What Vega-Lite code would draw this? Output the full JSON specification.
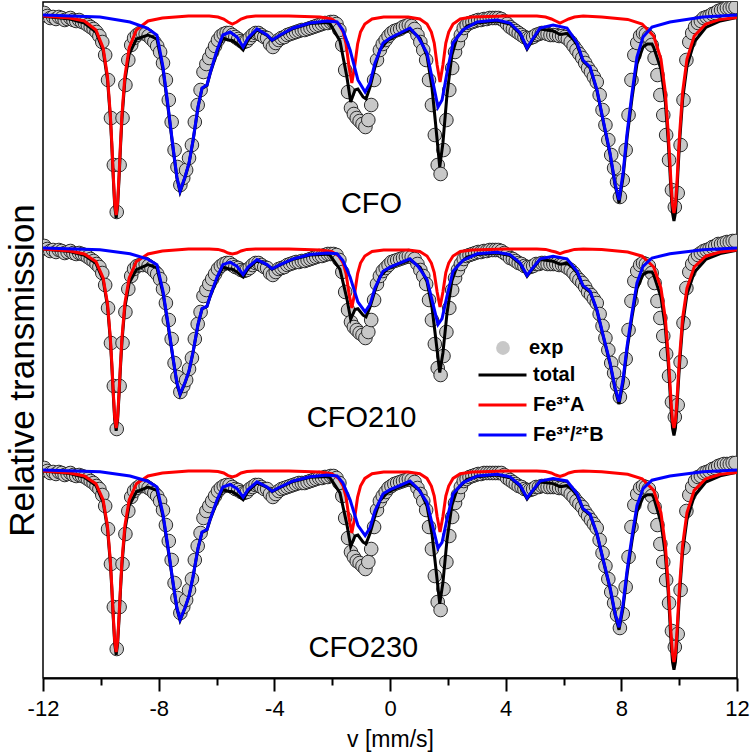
{
"$schema":"https://vega.github.io/schema/vega-lite/v6.json",
"width":694,"height":676,
"autosize":"none",
"padding":{"left":43,"top":2,"right":13,"bottom":77},
"config":{"font":"Liberation Sans","view":{"stroke":"black","strokeWidth":1.5},"axis":{"grid":false}},
"datasets":{
"exp":[
{"s":"CFO","v":-11.95,"y":665},{"s":"CFO","v":-11.85,"y":662},{"s":"CFO","v":-11.75,"y":660},{"s":"CFO","v":-11.65,"y":661},{"s":"CFO","v":-11.55,"y":659},{"s":"CFO","v":-11.45,"y":661},{"s":"CFO","v":-11.35,"y":660},{"s":"CFO","v":-11.25,"y":658},{"s":"CFO","v":-11.15,"y":659},{"s":"CFO","v":-11.05,"y":660},
{"s":"CFO","v":-10.95,"y":658},{"s":"CFO","v":-10.85,"y":657},{"s":"CFO","v":-10.75,"y":658},{"s":"CFO","v":-10.65,"y":656},{"s":"CFO","v":-10.55,"y":655},{"s":"CFO","v":-10.45,"y":653},{"s":"CFO","v":-10.35,"y":651},{"s":"CFO","v":-10.25,"y":649},{"s":"CFO","v":-10.15,"y":646},{"s":"CFO","v":-10.05,"y":642},
{"s":"CFO","v":-9.95,"y":636},{"s":"CFO","v":-9.85,"y":623},{"s":"CFO","v":-9.75,"y":598},{"s":"CFO","v":-9.65,"y":560},{"s":"CFO","v":-9.55,"y":513},{"s":"CFO","v":-9.45,"y":466},{"s":"CFO","v":-9.35,"y":513},{"s":"CFO","v":-9.25,"y":560},{"s":"CFO","v":-9.15,"y":593},{"s":"CFO","v":-9.05,"y":618},
{"s":"CFO","v":-8.95,"y":633},{"s":"CFO","v":-8.85,"y":640},{"s":"CFO","v":-8.75,"y":643},{"s":"CFO","v":-8.65,"y":645},{"s":"CFO","v":-8.55,"y":645},{"s":"CFO","v":-8.45,"y":644},{"s":"CFO","v":-8.35,"y":642},{"s":"CFO","v":-8.25,"y":639},{"s":"CFO","v":-8.15,"y":636},{"s":"CFO","v":-8.05,"y":632},
{"s":"CFO","v":-7.95,"y":626},{"s":"CFO","v":-7.85,"y":615},{"s":"CFO","v":-7.75,"y":598},{"s":"CFO","v":-7.65,"y":578},{"s":"CFO","v":-7.55,"y":556},{"s":"CFO","v":-7.45,"y":528},{"s":"CFO","v":-7.35,"y":511},{"s":"CFO","v":-7.25,"y":493},{"s":"CFO","v":-7.15,"y":500},{"s":"CFO","v":-7.05,"y":508},
{"s":"CFO","v":-6.95,"y":520},{"s":"CFO","v":-6.85,"y":533},{"s":"CFO","v":-6.75,"y":556},{"s":"CFO","v":-6.65,"y":573},{"s":"CFO","v":-6.55,"y":588},{"s":"CFO","v":-6.45,"y":606},{"s":"CFO","v":-6.35,"y":614},{"s":"CFO","v":-6.25,"y":620},{"s":"CFO","v":-6.15,"y":626},{"s":"CFO","v":-6.05,"y":632},
{"s":"CFO","v":-5.95,"y":638},{"s":"CFO","v":-5.85,"y":642},{"s":"CFO","v":-5.75,"y":644},{"s":"CFO","v":-5.65,"y":645},{"s":"CFO","v":-5.55,"y":645},{"s":"CFO","v":-5.45,"y":643},{"s":"CFO","v":-5.35,"y":641},{"s":"CFO","v":-5.25,"y":639},{"s":"CFO","v":-5.15,"y":637},{"s":"CFO","v":-5.05,"y":636},
{"s":"CFO","v":-4.95,"y":637},{"s":"CFO","v":-4.85,"y":640},{"s":"CFO","v":-4.75,"y":643},{"s":"CFO","v":-4.65,"y":645},{"s":"CFO","v":-4.55,"y":645},{"s":"CFO","v":-4.45,"y":643},{"s":"CFO","v":-4.35,"y":641},{"s":"CFO","v":-4.25,"y":640},{"s":"CFO","v":-4.15,"y":634},{"s":"CFO","v":-4.05,"y":631},
{"s":"CFO","v":-3.95,"y":635},{"s":"CFO","v":-3.85,"y":638},{"s":"CFO","v":-3.75,"y":640},{"s":"CFO","v":-3.65,"y":641},{"s":"CFO","v":-3.55,"y":643},{"s":"CFO","v":-3.45,"y":644},{"s":"CFO","v":-3.35,"y":645},{"s":"CFO","v":-3.25,"y":646},{"s":"CFO","v":-3.15,"y":647},{"s":"CFO","v":-3.05,"y":648},
{"s":"CFO","v":-2.95,"y":648},{"s":"CFO","v":-2.85,"y":649},{"s":"CFO","v":-2.75,"y":650},{"s":"CFO","v":-2.65,"y":651},{"s":"CFO","v":-2.55,"y":652},{"s":"CFO","v":-2.45,"y":653},{"s":"CFO","v":-2.35,"y":654},{"s":"CFO","v":-2.25,"y":655},{"s":"CFO","v":-2.15,"y":655},{"s":"CFO","v":-2.05,"y":656},
{"s":"CFO","v":-1.95,"y":656},{"s":"CFO","v":-1.85,"y":654},{"s":"CFO","v":-1.75,"y":648},{"s":"CFO","v":-1.65,"y":633},{"s":"CFO","v":-1.55,"y":608},{"s":"CFO","v":-1.45,"y":586},{"s":"CFO","v":-1.35,"y":570},{"s":"CFO","v":-1.25,"y":564},{"s":"CFO","v":-1.15,"y":560},{"s":"CFO","v":-1.05,"y":557},
{"s":"CFO","v":-0.95,"y":554},{"s":"CFO","v":-0.85,"y":551},{"s":"CFO","v":-0.75,"y":558},{"s":"CFO","v":-0.65,"y":573},{"s":"CFO","v":-0.55,"y":598},{"s":"CFO","v":-0.45,"y":618},{"s":"CFO","v":-0.35,"y":628},{"s":"CFO","v":-0.25,"y":634},{"s":"CFO","v":-0.15,"y":638},{"s":"CFO","v":-0.05,"y":642},
{"s":"CFO","v":0.05,"y":645},{"s":"CFO","v":0.15,"y":647},{"s":"CFO","v":0.25,"y":648},{"s":"CFO","v":0.35,"y":649},{"s":"CFO","v":0.45,"y":651},{"s":"CFO","v":0.55,"y":652},{"s":"CFO","v":0.65,"y":653},{"s":"CFO","v":0.75,"y":652},{"s":"CFO","v":0.85,"y":649},{"s":"CFO","v":0.95,"y":643},
{"s":"CFO","v":1.05,"y":636},{"s":"CFO","v":1.15,"y":628},{"s":"CFO","v":1.25,"y":618},{"s":"CFO","v":1.35,"y":598},{"s":"CFO","v":1.45,"y":573},{"s":"CFO","v":1.55,"y":543},{"s":"CFO","v":1.65,"y":513},{"s":"CFO","v":1.75,"y":504},{"s":"CFO","v":1.85,"y":528},{"s":"CFO","v":1.95,"y":558},
{"s":"CFO","v":2.05,"y":588},{"s":"CFO","v":2.15,"y":610},{"s":"CFO","v":2.25,"y":626},{"s":"CFO","v":2.35,"y":635},{"s":"CFO","v":2.45,"y":643},{"s":"CFO","v":2.55,"y":650},{"s":"CFO","v":2.65,"y":653},{"s":"CFO","v":2.75,"y":655},{"s":"CFO","v":2.85,"y":656},{"s":"CFO","v":2.95,"y":657},
{"s":"CFO","v":3.05,"y":658},{"s":"CFO","v":3.15,"y":658},{"s":"CFO","v":3.25,"y":659},{"s":"CFO","v":3.35,"y":659},{"s":"CFO","v":3.45,"y":660},{"s":"CFO","v":3.55,"y":660},{"s":"CFO","v":3.65,"y":660},{"s":"CFO","v":3.75,"y":660},{"s":"CFO","v":3.85,"y":659},{"s":"CFO","v":3.95,"y":657},
{"s":"CFO","v":4.05,"y":654},{"s":"CFO","v":4.15,"y":651},{"s":"CFO","v":4.25,"y":649},{"s":"CFO","v":4.35,"y":647},{"s":"CFO","v":4.45,"y":645},{"s":"CFO","v":4.55,"y":643},{"s":"CFO","v":4.65,"y":641},{"s":"CFO","v":4.75,"y":640},{"s":"CFO","v":4.85,"y":640},{"s":"CFO","v":4.95,"y":641},
{"s":"CFO","v":5.05,"y":643},{"s":"CFO","v":5.15,"y":644},{"s":"CFO","v":5.25,"y":645},{"s":"CFO","v":5.35,"y":645},{"s":"CFO","v":5.45,"y":644},{"s":"CFO","v":5.55,"y":643},{"s":"CFO","v":5.65,"y":643},{"s":"CFO","v":5.75,"y":643},{"s":"CFO","v":5.85,"y":642},{"s":"CFO","v":5.95,"y":642},
{"s":"CFO","v":6.05,"y":641},{"s":"CFO","v":6.15,"y":639},{"s":"CFO","v":6.25,"y":636},{"s":"CFO","v":6.35,"y":632},{"s":"CFO","v":6.45,"y":628},{"s":"CFO","v":6.55,"y":624},{"s":"CFO","v":6.65,"y":620},{"s":"CFO","v":6.75,"y":615},{"s":"CFO","v":6.85,"y":610},{"s":"CFO","v":6.95,"y":606},
{"s":"CFO","v":7.05,"y":601},{"s":"CFO","v":7.15,"y":596},{"s":"CFO","v":7.25,"y":583},{"s":"CFO","v":7.35,"y":568},{"s":"CFO","v":7.45,"y":553},{"s":"CFO","v":7.55,"y":538},{"s":"CFO","v":7.65,"y":523},{"s":"CFO","v":7.75,"y":510},{"s":"CFO","v":7.85,"y":496},{"s":"CFO","v":7.95,"y":481},
{"s":"CFO","v":8.05,"y":498},{"s":"CFO","v":8.15,"y":528},{"s":"CFO","v":8.25,"y":563},{"s":"CFO","v":8.35,"y":598},{"s":"CFO","v":8.45,"y":623},{"s":"CFO","v":8.55,"y":635},{"s":"CFO","v":8.65,"y":642},{"s":"CFO","v":8.75,"y":645},{"s":"CFO","v":8.85,"y":644},{"s":"CFO","v":8.95,"y":641},
{"s":"CFO","v":9.05,"y":633},{"s":"CFO","v":9.15,"y":620},{"s":"CFO","v":9.25,"y":603},{"s":"CFO","v":9.35,"y":583},{"s":"CFO","v":9.45,"y":563},{"s":"CFO","v":9.55,"y":543},{"s":"CFO","v":9.65,"y":518},{"s":"CFO","v":9.75,"y":488},{"s":"CFO","v":9.85,"y":471},{"s":"CFO","v":9.95,"y":485},
{"s":"CFO","v":10.05,"y":533},{"s":"CFO","v":10.15,"y":578},{"s":"CFO","v":10.25,"y":618},{"s":"CFO","v":10.35,"y":636},{"s":"CFO","v":10.45,"y":645},{"s":"CFO","v":10.55,"y":651},{"s":"CFO","v":10.65,"y":655},{"s":"CFO","v":10.75,"y":657},{"s":"CFO","v":10.85,"y":660},{"s":"CFO","v":10.95,"y":661},
{"s":"CFO","v":11.05,"y":662},{"s":"CFO","v":11.15,"y":664},{"s":"CFO","v":11.25,"y":665},{"s":"CFO","v":11.35,"y":667},{"s":"CFO","v":11.45,"y":668},{"s":"CFO","v":11.55,"y":669},{"s":"CFO","v":11.65,"y":670},{"s":"CFO","v":11.75,"y":670},{"s":"CFO","v":11.85,"y":671},{"s":"CFO","v":11.95,"y":671},
{"s":"CFO210","v":-11.95,"y":432},{"s":"CFO210","v":-11.85,"y":429},{"s":"CFO210","v":-11.75,"y":427},{"s":"CFO210","v":-11.65,"y":428},{"s":"CFO210","v":-11.55,"y":426},{"s":"CFO210","v":-11.45,"y":428},{"s":"CFO210","v":-11.35,"y":427},{"s":"CFO210","v":-11.25,"y":425},{"s":"CFO210","v":-11.15,"y":426},{"s":"CFO210","v":-11.05,"y":427},
{"s":"CFO210","v":-10.95,"y":425},{"s":"CFO210","v":-10.85,"y":424},{"s":"CFO210","v":-10.75,"y":425},{"s":"CFO210","v":-10.65,"y":424},{"s":"CFO210","v":-10.55,"y":423},{"s":"CFO210","v":-10.45,"y":421},{"s":"CFO210","v":-10.35,"y":419},{"s":"CFO210","v":-10.25,"y":417},{"s":"CFO210","v":-10.15,"y":414},{"s":"CFO210","v":-10.05,"y":411},
{"s":"CFO210","v":-9.95,"y":405},{"s":"CFO210","v":-9.85,"y":393},{"s":"CFO210","v":-9.75,"y":370},{"s":"CFO210","v":-9.65,"y":335},{"s":"CFO210","v":-9.55,"y":292},{"s":"CFO210","v":-9.45,"y":249},{"s":"CFO210","v":-9.35,"y":292},{"s":"CFO210","v":-9.25,"y":335},{"s":"CFO210","v":-9.15,"y":366},{"s":"CFO210","v":-9.05,"y":389},
{"s":"CFO210","v":-8.95,"y":402},{"s":"CFO210","v":-8.85,"y":409},{"s":"CFO210","v":-8.75,"y":412},{"s":"CFO210","v":-8.65,"y":413},{"s":"CFO210","v":-8.55,"y":413},{"s":"CFO210","v":-8.45,"y":414},{"s":"CFO210","v":-8.35,"y":412},{"s":"CFO210","v":-8.25,"y":410},{"s":"CFO210","v":-8.15,"y":407},{"s":"CFO210","v":-8.05,"y":404},
{"s":"CFO210","v":-7.95,"y":399},{"s":"CFO210","v":-7.85,"y":389},{"s":"CFO210","v":-7.75,"y":375},{"s":"CFO210","v":-7.65,"y":358},{"s":"CFO210","v":-7.55,"y":339},{"s":"CFO210","v":-7.45,"y":315},{"s":"CFO210","v":-7.35,"y":301},{"s":"CFO210","v":-7.25,"y":286},{"s":"CFO210","v":-7.15,"y":292},{"s":"CFO210","v":-7.05,"y":298},
{"s":"CFO210","v":-6.95,"y":309},{"s":"CFO210","v":-6.85,"y":320},{"s":"CFO210","v":-6.75,"y":339},{"s":"CFO210","v":-6.65,"y":354},{"s":"CFO210","v":-6.55,"y":366},{"s":"CFO210","v":-6.45,"y":382},{"s":"CFO210","v":-6.35,"y":388},{"s":"CFO210","v":-6.25,"y":394},{"s":"CFO210","v":-6.15,"y":399},{"s":"CFO210","v":-6.05,"y":404},
{"s":"CFO210","v":-5.95,"y":409},{"s":"CFO210","v":-5.85,"y":412},{"s":"CFO210","v":-5.75,"y":414},{"s":"CFO210","v":-5.65,"y":415},{"s":"CFO210","v":-5.55,"y":415},{"s":"CFO210","v":-5.45,"y":413},{"s":"CFO210","v":-5.35,"y":411},{"s":"CFO210","v":-5.25,"y":410},{"s":"CFO210","v":-5.15,"y":408},{"s":"CFO210","v":-5.05,"y":407},
{"s":"CFO210","v":-4.95,"y":408},{"s":"CFO210","v":-4.85,"y":410},{"s":"CFO210","v":-4.75,"y":413},{"s":"CFO210","v":-4.65,"y":415},{"s":"CFO210","v":-4.55,"y":415},{"s":"CFO210","v":-4.45,"y":413},{"s":"CFO210","v":-4.35,"y":411},{"s":"CFO210","v":-4.25,"y":410},{"s":"CFO210","v":-4.15,"y":405},{"s":"CFO210","v":-4.05,"y":403},
{"s":"CFO210","v":-3.95,"y":406},{"s":"CFO210","v":-3.85,"y":409},{"s":"CFO210","v":-3.75,"y":410},{"s":"CFO210","v":-3.65,"y":411},{"s":"CFO210","v":-3.55,"y":413},{"s":"CFO210","v":-3.45,"y":414},{"s":"CFO210","v":-3.35,"y":415},{"s":"CFO210","v":-3.25,"y":416},{"s":"CFO210","v":-3.15,"y":416},{"s":"CFO210","v":-3.05,"y":417},
{"s":"CFO210","v":-2.95,"y":417},{"s":"CFO210","v":-2.85,"y":418},{"s":"CFO210","v":-2.75,"y":419},{"s":"CFO210","v":-2.65,"y":420},{"s":"CFO210","v":-2.55,"y":421},{"s":"CFO210","v":-2.45,"y":422},{"s":"CFO210","v":-2.35,"y":422},{"s":"CFO210","v":-2.25,"y":423},{"s":"CFO210","v":-2.15,"y":424},{"s":"CFO210","v":-2.05,"y":424},
{"s":"CFO210","v":-1.95,"y":424},{"s":"CFO210","v":-1.85,"y":423},{"s":"CFO210","v":-1.75,"y":418},{"s":"CFO210","v":-1.65,"y":406},{"s":"CFO210","v":-1.55,"y":386},{"s":"CFO210","v":-1.45,"y":368},{"s":"CFO210","v":-1.35,"y":356},{"s":"CFO210","v":-1.25,"y":351},{"s":"CFO210","v":-1.15,"y":348},{"s":"CFO210","v":-1.05,"y":345},
{"s":"CFO210","v":-0.95,"y":343},{"s":"CFO210","v":-0.85,"y":340},{"s":"CFO210","v":-0.75,"y":346},{"s":"CFO210","v":-0.65,"y":358},{"s":"CFO210","v":-0.55,"y":378},{"s":"CFO210","v":-0.45,"y":394},{"s":"CFO210","v":-0.35,"y":402},{"s":"CFO210","v":-0.25,"y":407},{"s":"CFO210","v":-0.15,"y":410},{"s":"CFO210","v":-0.05,"y":413},
{"s":"CFO210","v":0.05,"y":416},{"s":"CFO210","v":0.15,"y":417},{"s":"CFO210","v":0.25,"y":418},{"s":"CFO210","v":0.35,"y":419},{"s":"CFO210","v":0.45,"y":420},{"s":"CFO210","v":0.55,"y":421},{"s":"CFO210","v":0.65,"y":422},{"s":"CFO210","v":0.75,"y":421},{"s":"CFO210","v":0.85,"y":419},{"s":"CFO210","v":0.95,"y":414},
{"s":"CFO210","v":1.05,"y":408},{"s":"CFO210","v":1.15,"y":402},{"s":"CFO210","v":1.25,"y":394},{"s":"CFO210","v":1.35,"y":378},{"s":"CFO210","v":1.45,"y":358},{"s":"CFO210","v":1.55,"y":334},{"s":"CFO210","v":1.65,"y":310},{"s":"CFO210","v":1.75,"y":303},{"s":"CFO210","v":1.85,"y":322},{"s":"CFO210","v":1.95,"y":346},
{"s":"CFO210","v":2.05,"y":370},{"s":"CFO210","v":2.15,"y":388},{"s":"CFO210","v":2.25,"y":400},{"s":"CFO210","v":2.35,"y":408},{"s":"CFO210","v":2.45,"y":414},{"s":"CFO210","v":2.55,"y":419},{"s":"CFO210","v":2.65,"y":422},{"s":"CFO210","v":2.75,"y":423},{"s":"CFO210","v":2.85,"y":424},{"s":"CFO210","v":2.95,"y":425},
{"s":"CFO210","v":3.05,"y":426},{"s":"CFO210","v":3.15,"y":426},{"s":"CFO210","v":3.25,"y":427},{"s":"CFO210","v":3.35,"y":427},{"s":"CFO210","v":3.45,"y":428},{"s":"CFO210","v":3.55,"y":428},{"s":"CFO210","v":3.65,"y":428},{"s":"CFO210","v":3.75,"y":428},{"s":"CFO210","v":3.85,"y":427},{"s":"CFO210","v":3.95,"y":425},
{"s":"CFO210","v":4.05,"y":423},{"s":"CFO210","v":4.15,"y":420},{"s":"CFO210","v":4.25,"y":419},{"s":"CFO210","v":4.35,"y":417},{"s":"CFO210","v":4.45,"y":415},{"s":"CFO210","v":4.55,"y":414},{"s":"CFO210","v":4.65,"y":412},{"s":"CFO210","v":4.75,"y":411},{"s":"CFO210","v":4.85,"y":411},{"s":"CFO210","v":4.95,"y":412},
{"s":"CFO210","v":5.05,"y":414},{"s":"CFO210","v":5.15,"y":414},{"s":"CFO210","v":5.25,"y":415},{"s":"CFO210","v":5.35,"y":415},{"s":"CFO210","v":5.45,"y":414},{"s":"CFO210","v":5.55,"y":414},{"s":"CFO210","v":5.65,"y":414},{"s":"CFO210","v":5.75,"y":414},{"s":"CFO210","v":5.85,"y":413},{"s":"CFO210","v":5.95,"y":413},
{"s":"CFO210","v":6.05,"y":412},{"s":"CFO210","v":6.15,"y":410},{"s":"CFO210","v":6.25,"y":408},{"s":"CFO210","v":6.35,"y":405},{"s":"CFO210","v":6.45,"y":401},{"s":"CFO210","v":6.55,"y":398},{"s":"CFO210","v":6.65,"y":395},{"s":"CFO210","v":6.75,"y":391},{"s":"CFO210","v":6.85,"y":386},{"s":"CFO210","v":6.95,"y":383},
{"s":"CFO210","v":7.05,"y":379},{"s":"CFO210","v":7.15,"y":375},{"s":"CFO210","v":7.25,"y":364},{"s":"CFO210","v":7.35,"y":352},{"s":"CFO210","v":7.45,"y":340},{"s":"CFO210","v":7.55,"y":328},{"s":"CFO210","v":7.65,"y":315},{"s":"CFO210","v":7.75,"y":305},{"s":"CFO210","v":7.85,"y":293},{"s":"CFO210","v":7.95,"y":281},
{"s":"CFO210","v":8.05,"y":295},{"s":"CFO210","v":8.15,"y":319},{"s":"CFO210","v":8.25,"y":348},{"s":"CFO210","v":8.35,"y":377},{"s":"CFO210","v":8.45,"y":397},{"s":"CFO210","v":8.55,"y":407},{"s":"CFO210","v":8.65,"y":413},{"s":"CFO210","v":8.75,"y":415},{"s":"CFO210","v":8.85,"y":414},{"s":"CFO210","v":8.95,"y":412},
{"s":"CFO210","v":9.05,"y":405},{"s":"CFO210","v":9.15,"y":395},{"s":"CFO210","v":9.25,"y":377},{"s":"CFO210","v":9.35,"y":360},{"s":"CFO210","v":9.45,"y":342},{"s":"CFO210","v":9.55,"y":324},{"s":"CFO210","v":9.65,"y":302},{"s":"CFO210","v":9.75,"y":276},{"s":"CFO210","v":9.85,"y":261},{"s":"CFO210","v":9.95,"y":273},
{"s":"CFO210","v":10.05,"y":316},{"s":"CFO210","v":10.15,"y":355},{"s":"CFO210","v":10.25,"y":390},{"s":"CFO210","v":10.35,"y":406},{"s":"CFO210","v":10.45,"y":414},{"s":"CFO210","v":10.55,"y":419},{"s":"CFO210","v":10.65,"y":423},{"s":"CFO210","v":10.75,"y":425},{"s":"CFO210","v":10.85,"y":427},{"s":"CFO210","v":10.95,"y":428},
{"s":"CFO210","v":11.05,"y":429},{"s":"CFO210","v":11.15,"y":431},{"s":"CFO210","v":11.25,"y":432},{"s":"CFO210","v":11.35,"y":434},{"s":"CFO210","v":11.45,"y":434},{"s":"CFO210","v":11.55,"y":435},{"s":"CFO210","v":11.65,"y":436},{"s":"CFO210","v":11.75,"y":436},{"s":"CFO210","v":11.85,"y":437},{"s":"CFO210","v":11.95,"y":437},
{"s":"CFO230","v":-11.95,"y":210},{"s":"CFO230","v":-11.85,"y":207},{"s":"CFO230","v":-11.75,"y":205},{"s":"CFO230","v":-11.65,"y":206},{"s":"CFO230","v":-11.55,"y":204},{"s":"CFO230","v":-11.45,"y":206},{"s":"CFO230","v":-11.35,"y":205},{"s":"CFO230","v":-11.25,"y":203},{"s":"CFO230","v":-11.15,"y":204},{"s":"CFO230","v":-11.05,"y":205},
{"s":"CFO230","v":-10.95,"y":203},{"s":"CFO230","v":-10.85,"y":202},{"s":"CFO230","v":-10.75,"y":203},{"s":"CFO230","v":-10.65,"y":202},{"s":"CFO230","v":-10.55,"y":201},{"s":"CFO230","v":-10.45,"y":199},{"s":"CFO230","v":-10.35,"y":197},{"s":"CFO230","v":-10.25,"y":195},{"s":"CFO230","v":-10.15,"y":192},{"s":"CFO230","v":-10.05,"y":189},
{"s":"CFO230","v":-9.95,"y":183},{"s":"CFO230","v":-9.85,"y":172},{"s":"CFO230","v":-9.75,"y":149},{"s":"CFO230","v":-9.65,"y":114},{"s":"CFO230","v":-9.55,"y":71},{"s":"CFO230","v":-9.45,"y":29},{"s":"CFO230","v":-9.35,"y":71},{"s":"CFO230","v":-9.25,"y":114},{"s":"CFO230","v":-9.15,"y":144},{"s":"CFO230","v":-9.05,"y":167},
{"s":"CFO230","v":-8.95,"y":181},{"s":"CFO230","v":-8.85,"y":187},{"s":"CFO230","v":-8.75,"y":190},{"s":"CFO230","v":-8.65,"y":192},{"s":"CFO230","v":-8.55,"y":192},{"s":"CFO230","v":-8.45,"y":192},{"s":"CFO230","v":-8.35,"y":190},{"s":"CFO230","v":-8.25,"y":188},{"s":"CFO230","v":-8.15,"y":185},{"s":"CFO230","v":-8.05,"y":182},
{"s":"CFO230","v":-7.95,"y":177},{"s":"CFO230","v":-7.85,"y":168},{"s":"CFO230","v":-7.75,"y":153},{"s":"CFO230","v":-7.65,"y":137},{"s":"CFO230","v":-7.55,"y":118},{"s":"CFO230","v":-7.45,"y":95},{"s":"CFO230","v":-7.35,"y":80},{"s":"CFO230","v":-7.25,"y":65},{"s":"CFO230","v":-7.15,"y":71},{"s":"CFO230","v":-7.05,"y":78},
{"s":"CFO230","v":-6.95,"y":88},{"s":"CFO230","v":-6.85,"y":99},{"s":"CFO230","v":-6.75,"y":118},{"s":"CFO230","v":-6.65,"y":132},{"s":"CFO230","v":-6.55,"y":145},{"s":"CFO230","v":-6.45,"y":160},{"s":"CFO230","v":-6.35,"y":167},{"s":"CFO230","v":-6.25,"y":172},{"s":"CFO230","v":-6.15,"y":177},{"s":"CFO230","v":-6.05,"y":182},
{"s":"CFO230","v":-5.95,"y":187},{"s":"CFO230","v":-5.85,"y":190},{"s":"CFO230","v":-5.75,"y":192},{"s":"CFO230","v":-5.65,"y":193},{"s":"CFO230","v":-5.55,"y":193},{"s":"CFO230","v":-5.45,"y":191},{"s":"CFO230","v":-5.35,"y":189},{"s":"CFO230","v":-5.25,"y":188},{"s":"CFO230","v":-5.15,"y":186},{"s":"CFO230","v":-5.05,"y":185},
{"s":"CFO230","v":-4.95,"y":186},{"s":"CFO230","v":-4.85,"y":189},{"s":"CFO230","v":-4.75,"y":191},{"s":"CFO230","v":-4.65,"y":193},{"s":"CFO230","v":-4.55,"y":193},{"s":"CFO230","v":-4.45,"y":191},{"s":"CFO230","v":-4.35,"y":189},{"s":"CFO230","v":-4.25,"y":189},{"s":"CFO230","v":-4.15,"y":184},{"s":"CFO230","v":-4.05,"y":181},
{"s":"CFO230","v":-3.95,"y":184},{"s":"CFO230","v":-3.85,"y":187},{"s":"CFO230","v":-3.75,"y":189},{"s":"CFO230","v":-3.65,"y":190},{"s":"CFO230","v":-3.55,"y":191},{"s":"CFO230","v":-3.45,"y":192},{"s":"CFO230","v":-3.35,"y":193},{"s":"CFO230","v":-3.25,"y":194},{"s":"CFO230","v":-3.15,"y":195},{"s":"CFO230","v":-3.05,"y":195},
{"s":"CFO230","v":-2.95,"y":195},{"s":"CFO230","v":-2.85,"y":196},{"s":"CFO230","v":-2.75,"y":197},{"s":"CFO230","v":-2.65,"y":198},{"s":"CFO230","v":-2.55,"y":199},{"s":"CFO230","v":-2.45,"y":200},{"s":"CFO230","v":-2.35,"y":200},{"s":"CFO230","v":-2.25,"y":201},{"s":"CFO230","v":-2.15,"y":201},{"s":"CFO230","v":-2.05,"y":202},
{"s":"CFO230","v":-1.95,"y":202},{"s":"CFO230","v":-1.85,"y":200},{"s":"CFO230","v":-1.75,"y":195},{"s":"CFO230","v":-1.65,"y":182},{"s":"CFO230","v":-1.55,"y":160},{"s":"CFO230","v":-1.45,"y":140},{"s":"CFO230","v":-1.35,"y":126},{"s":"CFO230","v":-1.25,"y":121},{"s":"CFO230","v":-1.15,"y":117},{"s":"CFO230","v":-1.05,"y":115},
{"s":"CFO230","v":-0.95,"y":112},{"s":"CFO230","v":-0.85,"y":109},{"s":"CFO230","v":-0.75,"y":116},{"s":"CFO230","v":-0.65,"y":129},{"s":"CFO230","v":-0.55,"y":151},{"s":"CFO230","v":-0.45,"y":168},{"s":"CFO230","v":-0.35,"y":177},{"s":"CFO230","v":-0.25,"y":182},{"s":"CFO230","v":-0.15,"y":186},{"s":"CFO230","v":-0.05,"y":190},
{"s":"CFO230","v":0.05,"y":192},{"s":"CFO230","v":0.15,"y":194},{"s":"CFO230","v":0.25,"y":195},{"s":"CFO230","v":0.35,"y":196},{"s":"CFO230","v":0.45,"y":197},{"s":"CFO230","v":0.55,"y":198},{"s":"CFO230","v":0.65,"y":199},{"s":"CFO230","v":0.75,"y":198},{"s":"CFO230","v":0.85,"y":196},{"s":"CFO230","v":0.95,"y":190},
{"s":"CFO230","v":1.05,"y":184},{"s":"CFO230","v":1.15,"y":177},{"s":"CFO230","v":1.25,"y":168},{"s":"CFO230","v":1.35,"y":151},{"s":"CFO230","v":1.45,"y":129},{"s":"CFO230","v":1.55,"y":102},{"s":"CFO230","v":1.65,"y":76},{"s":"CFO230","v":1.75,"y":68},{"s":"CFO230","v":1.85,"y":89},{"s":"CFO230","v":1.95,"y":116},
{"s":"CFO230","v":2.05,"y":142},{"s":"CFO230","v":2.15,"y":161},{"s":"CFO230","v":2.25,"y":175},{"s":"CFO230","v":2.35,"y":183},{"s":"CFO230","v":2.45,"y":191},{"s":"CFO230","v":2.55,"y":197},{"s":"CFO230","v":2.65,"y":199},{"s":"CFO230","v":2.75,"y":201},{"s":"CFO230","v":2.85,"y":202},{"s":"CFO230","v":2.95,"y":203},
{"s":"CFO230","v":3.05,"y":204},{"s":"CFO230","v":3.15,"y":204},{"s":"CFO230","v":3.25,"y":205},{"s":"CFO230","v":3.35,"y":205},{"s":"CFO230","v":3.45,"y":205},{"s":"CFO230","v":3.55,"y":205},{"s":"CFO230","v":3.65,"y":205},{"s":"CFO230","v":3.75,"y":205},{"s":"CFO230","v":3.85,"y":205},{"s":"CFO230","v":3.95,"y":203},
{"s":"CFO230","v":4.05,"y":200},{"s":"CFO230","v":4.15,"y":198},{"s":"CFO230","v":4.25,"y":196},{"s":"CFO230","v":4.35,"y":194},{"s":"CFO230","v":4.45,"y":192},{"s":"CFO230","v":4.55,"y":191},{"s":"CFO230","v":4.65,"y":189},{"s":"CFO230","v":4.75,"y":188},{"s":"CFO230","v":4.85,"y":188},{"s":"CFO230","v":4.95,"y":189},
{"s":"CFO230","v":5.05,"y":191},{"s":"CFO230","v":5.15,"y":191},{"s":"CFO230","v":5.25,"y":192},{"s":"CFO230","v":5.35,"y":192},{"s":"CFO230","v":5.45,"y":191},{"s":"CFO230","v":5.55,"y":191},{"s":"CFO230","v":5.65,"y":191},{"s":"CFO230","v":5.75,"y":191},{"s":"CFO230","v":5.85,"y":190},{"s":"CFO230","v":5.95,"y":190},
{"s":"CFO230","v":6.05,"y":189},{"s":"CFO230","v":6.15,"y":187},{"s":"CFO230","v":6.25,"y":184},{"s":"CFO230","v":6.35,"y":181},{"s":"CFO230","v":6.45,"y":177},{"s":"CFO230","v":6.55,"y":174},{"s":"CFO230","v":6.65,"y":171},{"s":"CFO230","v":6.75,"y":166},{"s":"CFO230","v":6.85,"y":162},{"s":"CFO230","v":6.95,"y":158},
{"s":"CFO230","v":7.05,"y":154},{"s":"CFO230","v":7.15,"y":150},{"s":"CFO230","v":7.25,"y":138},{"s":"CFO230","v":7.35,"y":125},{"s":"CFO230","v":7.45,"y":112},{"s":"CFO230","v":7.55,"y":99},{"s":"CFO230","v":7.65,"y":86},{"s":"CFO230","v":7.75,"y":75},{"s":"CFO230","v":7.85,"y":63},{"s":"CFO230","v":7.95,"y":50},
{"s":"CFO230","v":8.05,"y":64},{"s":"CFO230","v":8.15,"y":91},{"s":"CFO230","v":8.25,"y":121},{"s":"CFO230","v":8.35,"y":151},{"s":"CFO230","v":8.45,"y":173},{"s":"CFO230","v":8.55,"y":184},{"s":"CFO230","v":8.65,"y":190},{"s":"CFO230","v":8.75,"y":192},{"s":"CFO230","v":8.85,"y":191},{"s":"CFO230","v":8.95,"y":189},
{"s":"CFO230","v":9.05,"y":182},{"s":"CFO230","v":9.15,"y":171},{"s":"CFO230","v":9.25,"y":153},{"s":"CFO230","v":9.35,"y":134},{"s":"CFO230","v":9.45,"y":116},{"s":"CFO230","v":9.55,"y":98},{"s":"CFO230","v":9.65,"y":75},{"s":"CFO230","v":9.75,"y":47},{"s":"CFO230","v":9.85,"y":31},{"s":"CFO230","v":9.95,"y":44},
{"s":"CFO230","v":10.05,"y":88},{"s":"CFO230","v":10.15,"y":130},{"s":"CFO230","v":10.25,"y":167},{"s":"CFO230","v":10.35,"y":183},{"s":"CFO230","v":10.45,"y":191},{"s":"CFO230","v":10.55,"y":197},{"s":"CFO230","v":10.65,"y":201},{"s":"CFO230","v":10.75,"y":202},{"s":"CFO230","v":10.85,"y":205},{"s":"CFO230","v":10.95,"y":206},
{"s":"CFO230","v":11.05,"y":207},{"s":"CFO230","v":11.15,"y":209},{"s":"CFO230","v":11.25,"y":210},{"s":"CFO230","v":11.35,"y":212},{"s":"CFO230","v":11.45,"y":213},{"s":"CFO230","v":11.55,"y":214},{"s":"CFO230","v":11.65,"y":214},{"s":"CFO230","v":11.75,"y":214},{"s":"CFO230","v":11.85,"y":215},{"s":"CFO230","v":11.95,"y":215}
],
"black":[
{"s":"CFO","v":-12,"y":661.8},{"s":"CFO","v":-11.07,"y":659},{"s":"CFO","v":-10.57,"y":655},{"s":"CFO","v":-10.17,"y":646},{"s":"CFO","v":-9.92,"y":627.5},{"s":"CFO","v":-9.77,"y":598.5},{"s":"CFO","v":-9.67,"y":560},{"s":"CFO","v":-9.62,"y":532},{"s":"CFO","v":-9.57,"y":500},{"s":"CFO","v":-9.52,"y":472},{"s":"CFO","v":-9.47,"y":460},{"s":"CFO","v":-9.42,"y":472},{"s":"CFO","v":-9.37,"y":499.5},{"s":"CFO","v":-9.32,"y":531},{"s":"CFO","v":-9.27,"y":559},{"s":"CFO","v":-9.17,"y":597},{"s":"CFO","v":-9.02,"y":624},{"s":"CFO","v":-8.77,"y":639},{"s":"CFO","v":-8.37,"y":643},{"s":"CFO","v":-8.06,"y":639},{"s":"CFO","v":-7.85,"y":608.5},{"s":"CFO","v":-7.68,"y":571},{"s":"CFO","v":-7.5,"y":529},{"s":"CFO","v":-7.37,"y":500},{"s":"CFO","v":-7.26,"y":486},{"s":"CFO","v":-7.09,"y":500.5},{"s":"CFO","v":-6.95,"y":514.5},{"s":"CFO","v":-6.81,"y":537.5},{"s":"CFO","v":-6.64,"y":570.5},{"s":"CFO","v":-6.5,"y":589.5},{"s":"CFO","v":-6.33,"y":592.5},{"s":"CFO","v":-6.22,"y":604.5},{"s":"CFO","v":-5.98,"y":626},{"s":"CFO","v":-5.78,"y":640},{"s":"CFO","v":-5.6,"y":638},{"s":"CFO","v":-5.45,"y":637.5},{"s":"CFO","v":-5.29,"y":634},{"s":"CFO","v":-5.15,"y":630},{"s":"CFO","v":-5.08,"y":628},{"s":"CFO","v":-4.91,"y":638},{"s":"CFO","v":-4.6,"y":648},{"s":"CFO","v":-4.25,"y":642.5},{"s":"CFO","v":-4.08,"y":637.5},{"s":"CFO","v":-3.8,"y":642.5},{"s":"CFO","v":-3.35,"y":649.5},{"s":"CFO","v":-2.77,"y":654.5},{"s":"CFO","v":-2.18,"y":655.5},{"s":"CFO","v":-2.07,"y":654},{"s":"CFO","v":-1.73,"y":637},{"s":"CFO","v":-1.49,"y":601},{"s":"CFO","v":-1.36,"y":576},{"s":"CFO","v":-1.21,"y":588},{"s":"CFO","v":-1.11,"y":589},{"s":"CFO","v":-0.93,"y":581},{"s":"CFO","v":-0.83,"y":579},{"s":"CFO","v":-0.69,"y":591},{"s":"CFO","v":-0.52,"y":611},{"s":"CFO","v":-0.35,"y":628},{"s":"CFO","v":-0.1,"y":637},{"s":"CFO","v":0.24,"y":643},{"s":"CFO","v":0.69,"y":648.5},{"s":"CFO","v":1.04,"y":639.5},{"s":"CFO","v":1.28,"y":622},{"s":"CFO","v":1.45,"y":591},{"s":"CFO","v":1.56,"y":559},{"s":"CFO","v":1.72,"y":511},{"s":"CFO","v":1.83,"y":535},{"s":"CFO","v":1.97,"y":583},{"s":"CFO","v":2.14,"y":623},{"s":"CFO","v":2.32,"y":641},{"s":"CFO","v":2.66,"y":652},{"s":"CFO","v":3.01,"y":655},{"s":"CFO","v":3.7,"y":657},{"s":"CFO","v":4.15,"y":654},{"s":"CFO","v":4.5,"y":644},{"s":"CFO","v":4.74,"y":629},{"s":"CFO","v":4.91,"y":637},{"s":"CFO","v":5.19,"y":649},{"s":"CFO","v":5.64,"y":647},{"s":"CFO","v":5.88,"y":643.5},{"s":"CFO","v":6.12,"y":644.5},{"s":"CFO","v":6.3,"y":640},{"s":"CFO","v":6.47,"y":633},{"s":"CFO","v":6.67,"y":617},{"s":"CFO","v":6.92,"y":610},{"s":"CFO","v":7.16,"y":587},{"s":"CFO","v":7.37,"y":557},{"s":"CFO","v":7.61,"y":523.5},{"s":"CFO","v":7.78,"y":493.5},{"s":"CFO","v":7.92,"y":475},{"s":"CFO","v":8.06,"y":501},{"s":"CFO","v":8.2,"y":541},{"s":"CFO","v":8.37,"y":580},{"s":"CFO","v":8.54,"y":614},{"s":"CFO","v":8.75,"y":631},{"s":"CFO","v":8.9,"y":634},{"s":"CFO","v":9.06,"y":634},{"s":"CFO","v":9.12,"y":630.5},{"s":"CFO","v":9.37,"y":609},{"s":"CFO","v":9.52,"y":576.5},{"s":"CFO","v":9.62,"y":537},{"s":"CFO","v":9.67,"y":512},{"s":"CFO","v":9.72,"y":485.4},{"s":"CFO","v":9.77,"y":465},{"s":"CFO","v":9.82,"y":457},{"s":"CFO","v":9.87,"y":465},{"s":"CFO","v":9.92,"y":486},{"s":"CFO","v":9.97,"y":513},{"s":"CFO","v":10.02,"y":538.4},{"s":"CFO","v":10.12,"y":578.6},{"s":"CFO","v":10.27,"y":612},{"s":"CFO","v":10.52,"y":636},{"s":"CFO","v":10.92,"y":650.5},{"s":"CFO","v":11.42,"y":657},{"s":"CFO","v":12,"y":660.6},
{"s":"CFO210","v":-12,"y":428.9},{"s":"CFO210","v":-11.07,"y":426.4},{"s":"CFO210","v":-10.57,"y":422.8},{"s":"CFO210","v":-10.17,"y":414.7},{"s":"CFO210","v":-9.92,"y":398},{"s":"CFO210","v":-9.77,"y":372},{"s":"CFO210","v":-9.67,"y":337.3},{"s":"CFO210","v":-9.62,"y":312},{"s":"CFO210","v":-9.57,"y":283.3},{"s":"CFO210","v":-9.52,"y":258},{"s":"CFO210","v":-9.47,"y":247.3},{"s":"CFO210","v":-9.42,"y":258},{"s":"CFO210","v":-9.37,"y":283},{"s":"CFO210","v":-9.32,"y":311.2},{"s":"CFO210","v":-9.27,"y":336.4},{"s":"CFO210","v":-9.17,"y":370.6},{"s":"CFO210","v":-9.02,"y":394.9},{"s":"CFO210","v":-8.77,"y":408.4},{"s":"CFO210","v":-8.37,"y":413.4},{"s":"CFO210","v":-8.06,"y":410.1},{"s":"CFO210","v":-7.85,"y":384.8},{"s":"CFO210","v":-7.68,"y":353.6},{"s":"CFO210","v":-7.5,"y":318.8},{"s":"CFO210","v":-7.37,"y":294.7},{"s":"CFO210","v":-7.26,"y":283.1},{"s":"CFO210","v":-7.09,"y":295.1},{"s":"CFO210","v":-6.95,"y":306.7},{"s":"CFO210","v":-6.81,"y":325.8},{"s":"CFO210","v":-6.64,"y":353.2},{"s":"CFO210","v":-6.5,"y":369},{"s":"CFO210","v":-6.33,"y":371.5},{"s":"CFO210","v":-6.22,"y":381.4},{"s":"CFO210","v":-5.98,"y":399.3},{"s":"CFO210","v":-5.78,"y":410.9},{"s":"CFO210","v":-5.6,"y":409.2},{"s":"CFO210","v":-5.45,"y":408.8},{"s":"CFO210","v":-5.29,"y":405.9},{"s":"CFO210","v":-5.15,"y":402.6},{"s":"CFO210","v":-5.08,"y":401},{"s":"CFO210","v":-4.91,"y":409.2},{"s":"CFO210","v":-4.6,"y":417.5},{"s":"CFO210","v":-4.25,"y":413},{"s":"CFO210","v":-4.08,"y":408.8},{"s":"CFO210","v":-3.8,"y":413},{"s":"CFO210","v":-3.35,"y":418.8},{"s":"CFO210","v":-2.77,"y":422.9},{"s":"CFO210","v":-2.18,"y":423.8},{"s":"CFO210","v":-2.07,"y":422.6},{"s":"CFO210","v":-1.73,"y":408.7},{"s":"CFO210","v":-1.49,"y":379.2},{"s":"CFO210","v":-1.36,"y":358.7},{"s":"CFO210","v":-1.21,"y":368.5},{"s":"CFO210","v":-1.11,"y":369.3},{"s":"CFO210","v":-0.93,"y":362.8},{"s":"CFO210","v":-0.83,"y":361.1},{"s":"CFO210","v":-0.69,"y":371},{"s":"CFO210","v":-0.52,"y":387.4},{"s":"CFO210","v":-0.35,"y":401.3},{"s":"CFO210","v":-0.1,"y":408.7},{"s":"CFO210","v":0.24,"y":413.6},{"s":"CFO210","v":0.69,"y":418.1},{"s":"CFO210","v":1.04,"y":410.7},{"s":"CFO210","v":1.28,"y":396.4},{"s":"CFO210","v":1.45,"y":371},{"s":"CFO210","v":1.56,"y":344.7},{"s":"CFO210","v":1.72,"y":305.4},{"s":"CFO210","v":1.83,"y":325},{"s":"CFO210","v":1.97,"y":364.4},{"s":"CFO210","v":2.14,"y":397.2},{"s":"CFO210","v":2.32,"y":412},{"s":"CFO210","v":2.66,"y":420.9},{"s":"CFO210","v":3.01,"y":423.4},{"s":"CFO210","v":3.7,"y":425},{"s":"CFO210","v":4.15,"y":422.5},{"s":"CFO210","v":4.5,"y":414.2},{"s":"CFO210","v":4.74,"y":401.8},{"s":"CFO210","v":4.91,"y":408.4},{"s":"CFO210","v":5.19,"y":418.4},{"s":"CFO210","v":5.64,"y":416.7},{"s":"CFO210","v":5.88,"y":413.8},{"s":"CFO210","v":6.12,"y":414.6},{"s":"CFO210","v":6.3,"y":410.9},{"s":"CFO210","v":6.47,"y":405.1},{"s":"CFO210","v":6.67,"y":391.8},{"s":"CFO210","v":6.92,"y":386},{"s":"CFO210","v":7.16,"y":366.9},{"s":"CFO210","v":7.37,"y":342},{"s":"CFO210","v":7.61,"y":314.2},{"s":"CFO210","v":7.78,"y":289.3},{"s":"CFO210","v":7.92,"y":274},{"s":"CFO210","v":8.06,"y":295.5},{"s":"CFO210","v":8.2,"y":328.7},{"s":"CFO210","v":8.37,"y":361.1},{"s":"CFO210","v":8.54,"y":389.3},{"s":"CFO210","v":8.75,"y":403.4},{"s":"CFO210","v":8.9,"y":405.9},{"s":"CFO210","v":9.06,"y":405.9},{"s":"CFO210","v":9.12,"y":403},{"s":"CFO210","v":9.37,"y":380.9},{"s":"CFO210","v":9.52,"y":351.3},{"s":"CFO210","v":9.62,"y":315.3},{"s":"CFO210","v":9.67,"y":292.6},{"s":"CFO210","v":9.72,"y":268.4},{"s":"CFO210","v":9.77,"y":249.8},{"s":"CFO210","v":9.82,"y":242.5},{"s":"CFO210","v":9.87,"y":249.8},{"s":"CFO210","v":9.92,"y":269},{"s":"CFO210","v":9.97,"y":293.5},{"s":"CFO210","v":10.02,"y":316.6},{"s":"CFO210","v":10.12,"y":353.2},{"s":"CFO210","v":10.27,"y":383.6},{"s":"CFO210","v":10.52,"y":405.4},{"s":"CFO210","v":10.92,"y":418.6},{"s":"CFO210","v":11.42,"y":424.5},{"s":"CFO210","v":12,"y":427.8},
{"s":"CFO230","v":-12,"y":206.9},{"s":"CFO230","v":-11.07,"y":204.4},{"s":"CFO230","v":-10.57,"y":200.7},{"s":"CFO230","v":-10.17,"y":192.5},{"s":"CFO230","v":-9.92,"y":175.7},{"s":"CFO230","v":-9.77,"y":149.3},{"s":"CFO230","v":-9.67,"y":114.3},{"s":"CFO230","v":-9.62,"y":88.8},{"s":"CFO230","v":-9.57,"y":59.7},{"s":"CFO230","v":-9.52,"y":34.2},{"s":"CFO230","v":-9.47,"y":23.3},{"s":"CFO230","v":-9.42,"y":34.2},{"s":"CFO230","v":-9.37,"y":59.2},{"s":"CFO230","v":-9.32,"y":87.9},{"s":"CFO230","v":-9.27,"y":113.4},{"s":"CFO230","v":-9.17,"y":147.9},{"s":"CFO230","v":-9.02,"y":172.5},{"s":"CFO230","v":-8.77,"y":186.2},{"s":"CFO230","v":-8.37,"y":191},{"s":"CFO230","v":-8.06,"y":187.6},{"s":"CFO230","v":-7.85,"y":161.7},{"s":"CFO230","v":-7.68,"y":129.8},{"s":"CFO230","v":-7.5,"y":94.1},{"s":"CFO230","v":-7.37,"y":69.4},{"s":"CFO230","v":-7.26,"y":57.5},{"s":"CFO230","v":-7.09,"y":69.9},{"s":"CFO230","v":-6.95,"y":81.8},{"s":"CFO230","v":-6.81,"y":101.3},{"s":"CFO230","v":-6.64,"y":129.4},{"s":"CFO230","v":-6.5,"y":145.5},{"s":"CFO230","v":-6.33,"y":148.1},{"s":"CFO230","v":-6.22,"y":158.3},{"s":"CFO230","v":-5.98,"y":176.5},{"s":"CFO230","v":-5.78,"y":188.4},{"s":"CFO230","v":-5.6,"y":186.7},{"s":"CFO230","v":-5.45,"y":186.3},{"s":"CFO230","v":-5.29,"y":183.3},{"s":"CFO230","v":-5.15,"y":179.9},{"s":"CFO230","v":-5.08,"y":178.2},{"s":"CFO230","v":-4.91,"y":186.7},{"s":"CFO230","v":-4.6,"y":195.2},{"s":"CFO230","v":-4.25,"y":190.6},{"s":"CFO230","v":-4.08,"y":186.3},{"s":"CFO230","v":-3.8,"y":190.6},{"s":"CFO230","v":-3.35,"y":196.5},{"s":"CFO230","v":-2.77,"y":200.8},{"s":"CFO230","v":-2.18,"y":201.6},{"s":"CFO230","v":-2.07,"y":200.1},{"s":"CFO230","v":-1.73,"y":185.1},{"s":"CFO230","v":-1.49,"y":153.4},{"s":"CFO230","v":-1.36,"y":131.4},{"s":"CFO230","v":-1.21,"y":142},{"s":"CFO230","v":-1.11,"y":142.9},{"s":"CFO230","v":-0.93,"y":135.8},{"s":"CFO230","v":-0.83,"y":134.1},{"s":"CFO230","v":-0.69,"y":144.6},{"s":"CFO230","v":-0.52,"y":162.2},{"s":"CFO230","v":-0.35,"y":177.2},{"s":"CFO230","v":-0.1,"y":185.1},{"s":"CFO230","v":0.24,"y":190.4},{"s":"CFO230","v":0.69,"y":195.2},{"s":"CFO230","v":1.04,"y":187.3},{"s":"CFO230","v":1.28,"y":171.9},{"s":"CFO230","v":1.45,"y":144.6},{"s":"CFO230","v":1.56,"y":116.5},{"s":"CFO230","v":1.72,"y":74.2},{"s":"CFO230","v":1.83,"y":95.4},{"s":"CFO230","v":1.97,"y":137.6},{"s":"CFO230","v":2.14,"y":172.8},{"s":"CFO230","v":2.32,"y":188.6},{"s":"CFO230","v":2.66,"y":198.6},{"s":"CFO230","v":3.01,"y":201.2},{"s":"CFO230","v":3.7,"y":202.9},{"s":"CFO230","v":4.15,"y":200.3},{"s":"CFO230","v":4.5,"y":191.8},{"s":"CFO230","v":4.74,"y":179.1},{"s":"CFO230","v":4.91,"y":185.9},{"s":"CFO230","v":5.19,"y":196.1},{"s":"CFO230","v":5.64,"y":194.4},{"s":"CFO230","v":5.88,"y":191.4},{"s":"CFO230","v":6.12,"y":192.3},{"s":"CFO230","v":6.3,"y":188.4},{"s":"CFO230","v":6.47,"y":182.5},{"s":"CFO230","v":6.67,"y":168.9},{"s":"CFO230","v":6.92,"y":163},{"s":"CFO230","v":7.16,"y":143.4},{"s":"CFO230","v":7.37,"y":117.9},{"s":"CFO230","v":7.61,"y":89.4},{"s":"CFO230","v":7.78,"y":63.9},{"s":"CFO230","v":7.92,"y":48.2},{"s":"CFO230","v":8.06,"y":70.3},{"s":"CFO230","v":8.2,"y":104.3},{"s":"CFO230","v":8.37,"y":137.4},{"s":"CFO230","v":8.54,"y":166.3},{"s":"CFO230","v":8.75,"y":180.8},{"s":"CFO230","v":8.9,"y":183.3},{"s":"CFO230","v":9.06,"y":183.3},{"s":"CFO230","v":9.12,"y":180.4},{"s":"CFO230","v":9.37,"y":155.6},{"s":"CFO230","v":9.52,"y":124.1},{"s":"CFO230","v":9.62,"y":85.8},{"s":"CFO230","v":9.67,"y":61.5},{"s":"CFO230","v":9.72,"y":35.7},{"s":"CFO230","v":9.77,"y":15.9},{"s":"CFO230","v":9.82,"y":8.2},{"s":"CFO230","v":9.87,"y":15.9},{"s":"CFO230","v":9.92,"y":36.3},{"s":"CFO230","v":9.97,"y":62.5},{"s":"CFO230","v":10.02,"y":87.1},{"s":"CFO230","v":10.12,"y":126.1},{"s":"CFO230","v":10.27,"y":158.5},{"s":"CFO230","v":10.52,"y":181.8},{"s":"CFO230","v":10.92,"y":195.9},{"s":"CFO230","v":11.42,"y":202.2},{"s":"CFO230","v":12,"y":205.7}
],
"red":[
{"s":"CFO","v":-12,"y":662},{"s":"CFO","v":-11.07,"y":660},{"s":"CFO","v":-10.57,"y":657},{"s":"CFO","v":-10.17,"y":648},{"s":"CFO","v":-9.92,"y":630},{"s":"CFO","v":-9.77,"y":601.5},{"s":"CFO","v":-9.67,"y":563},{"s":"CFO","v":-9.62,"y":535},{"s":"CFO","v":-9.57,"y":503},{"s":"CFO","v":-9.52,"y":475},{"s":"CFO","v":-9.47,"y":463},{"s":"CFO","v":-9.42,"y":475},{"s":"CFO","v":-9.37,"y":503},{"s":"CFO","v":-9.32,"y":535},{"s":"CFO","v":-9.27,"y":563},{"s":"CFO","v":-9.17,"y":601.5},{"s":"CFO","v":-9.02,"y":630},{"s":"CFO","v":-8.77,"y":648},{"s":"CFO","v":-8.37,"y":657},{"s":"CFO","v":-7.87,"y":660},{"s":"CFO","v":-6.97,"y":662},{"s":"CFO","v":-6.25,"y":662},{"s":"CFO","v":-5.95,"y":661},{"s":"CFO","v":-5.75,"y":659},{"s":"CFO","v":-5.6,"y":656},{"s":"CFO","v":-5.45,"y":654},{"s":"CFO","v":-5.3,"y":656},{"s":"CFO","v":-5.15,"y":659},{"s":"CFO","v":-4.95,"y":661},{"s":"CFO","v":-4.65,"y":662},{"s":"CFO","v":-3.5,"y":662},{"s":"CFO","v":-2.42,"y":661},{"s":"CFO","v":-2.02,"y":659},{"s":"CFO","v":-1.77,"y":654},{"s":"CFO","v":-1.62,"y":646},{"s":"CFO","v":-1.52,"y":634},{"s":"CFO","v":-1.42,"y":612},{"s":"CFO","v":-1.32,"y":595},{"s":"CFO","v":-1.22,"y":612},{"s":"CFO","v":-1.12,"y":634},{"s":"CFO","v":-1.02,"y":646},{"s":"CFO","v":-0.87,"y":654},{"s":"CFO","v":-0.62,"y":659},{"s":"CFO","v":-0.22,"y":661},{"s":"CFO","v":0.2,"y":661},{"s":"CFO","v":0.63,"y":661},{"s":"CFO","v":1.03,"y":659},{"s":"CFO","v":1.28,"y":654},{"s":"CFO","v":1.43,"y":646},{"s":"CFO","v":1.53,"y":635},{"s":"CFO","v":1.63,"y":613},{"s":"CFO","v":1.73,"y":596},{"s":"CFO","v":1.83,"y":613},{"s":"CFO","v":1.93,"y":635},{"s":"CFO","v":2.03,"y":646},{"s":"CFO","v":2.18,"y":654},{"s":"CFO","v":2.43,"y":659},{"s":"CFO","v":2.83,"y":661},{"s":"CFO","v":4,"y":662},{"s":"CFO","v":5.08,"y":662},{"s":"CFO","v":5.38,"y":661},{"s":"CFO","v":5.58,"y":659},{"s":"CFO","v":5.73,"y":657},{"s":"CFO","v":5.88,"y":655},{"s":"CFO","v":6.03,"y":657},{"s":"CFO","v":6.18,"y":659},{"s":"CFO","v":6.38,"y":661},{"s":"CFO","v":6.68,"y":662},{"s":"CFO","v":7.32,"y":661},{"s":"CFO","v":8.22,"y":658.6},{"s":"CFO","v":8.72,"y":654},{"s":"CFO","v":9.12,"y":642},{"s":"CFO","v":9.37,"y":619},{"s":"CFO","v":9.52,"y":586},{"s":"CFO","v":9.62,"y":546},{"s":"CFO","v":9.67,"y":521},{"s":"CFO","v":9.72,"y":494},{"s":"CFO","v":9.77,"y":473},{"s":"CFO","v":9.82,"y":465},{"s":"CFO","v":9.87,"y":473},{"s":"CFO","v":9.92,"y":494},{"s":"CFO","v":9.97,"y":521},{"s":"CFO","v":10.02,"y":546},{"s":"CFO","v":10.12,"y":586},{"s":"CFO","v":10.27,"y":619},{"s":"CFO","v":10.52,"y":642},{"s":"CFO","v":10.92,"y":654},{"s":"CFO","v":11.42,"y":658.6},{"s":"CFO","v":12,"y":660.6},
{"s":"CFO210","v":-12,"y":429},{"s":"CFO210","v":-11.07,"y":427},{"s":"CFO210","v":-10.57,"y":424},{"s":"CFO210","v":-10.17,"y":416.5},{"s":"CFO210","v":-9.92,"y":400},{"s":"CFO210","v":-9.77,"y":374.6},{"s":"CFO210","v":-9.67,"y":340},{"s":"CFO210","v":-9.62,"y":315},{"s":"CFO210","v":-9.57,"y":286},{"s":"CFO210","v":-9.52,"y":261},{"s":"CFO210","v":-9.47,"y":250},{"s":"CFO210","v":-9.42,"y":261},{"s":"CFO210","v":-9.37,"y":286},{"s":"CFO210","v":-9.32,"y":315},{"s":"CFO210","v":-9.27,"y":340},{"s":"CFO210","v":-9.17,"y":374.6},{"s":"CFO210","v":-9.02,"y":400},{"s":"CFO210","v":-8.77,"y":416.5},{"s":"CFO210","v":-8.37,"y":424},{"s":"CFO210","v":-7.87,"y":427},{"s":"CFO210","v":-6.97,"y":429},{"s":"CFO210","v":-6.25,"y":429},{"s":"CFO210","v":-5.95,"y":428.6},{"s":"CFO210","v":-5.75,"y":427},{"s":"CFO210","v":-5.6,"y":425},{"s":"CFO210","v":-5.45,"y":424},{"s":"CFO210","v":-5.3,"y":425},{"s":"CFO210","v":-5.15,"y":427},{"s":"CFO210","v":-4.95,"y":428.6},{"s":"CFO210","v":-4.65,"y":429},{"s":"CFO210","v":-3.5,"y":429},{"s":"CFO210","v":-2.42,"y":428},{"s":"CFO210","v":-2.02,"y":426.5},{"s":"CFO210","v":-1.77,"y":422},{"s":"CFO210","v":-1.62,"y":415},{"s":"CFO210","v":-1.52,"y":404.5},{"s":"CFO210","v":-1.42,"y":385},{"s":"CFO210","v":-1.32,"y":370},{"s":"CFO210","v":-1.22,"y":385},{"s":"CFO210","v":-1.12,"y":404.5},{"s":"CFO210","v":-1.02,"y":415},{"s":"CFO210","v":-0.87,"y":422},{"s":"CFO210","v":-0.62,"y":426.5},{"s":"CFO210","v":-0.22,"y":428},{"s":"CFO210","v":0.2,"y":428},{"s":"CFO210","v":0.63,"y":428},{"s":"CFO210","v":1.03,"y":426.5},{"s":"CFO210","v":1.28,"y":422},{"s":"CFO210","v":1.43,"y":415},{"s":"CFO210","v":1.53,"y":405.4},{"s":"CFO210","v":1.63,"y":386},{"s":"CFO210","v":1.73,"y":371},{"s":"CFO210","v":1.83,"y":386},{"s":"CFO210","v":1.93,"y":405.4},{"s":"CFO210","v":2.03,"y":415},{"s":"CFO210","v":2.18,"y":422},{"s":"CFO210","v":2.43,"y":426.5},{"s":"CFO210","v":2.83,"y":428},{"s":"CFO210","v":4,"y":429},{"s":"CFO210","v":5.08,"y":429},{"s":"CFO210","v":5.38,"y":428.6},{"s":"CFO210","v":5.58,"y":427},{"s":"CFO210","v":5.73,"y":426},{"s":"CFO210","v":5.88,"y":424.4},{"s":"CFO210","v":6.03,"y":426},{"s":"CFO210","v":6.18,"y":427},{"s":"CFO210","v":6.38,"y":428.6},{"s":"CFO210","v":6.68,"y":429},{"s":"CFO210","v":7.32,"y":428.4},{"s":"CFO210","v":8.22,"y":426},{"s":"CFO210","v":8.72,"y":421.8},{"s":"CFO210","v":9.12,"y":411},{"s":"CFO210","v":9.37,"y":390},{"s":"CFO210","v":9.52,"y":360},{"s":"CFO210","v":9.62,"y":323.5},{"s":"CFO210","v":9.67,"y":301},{"s":"CFO210","v":9.72,"y":276},{"s":"CFO210","v":9.77,"y":257},{"s":"CFO210","v":9.82,"y":250},{"s":"CFO210","v":9.87,"y":257},{"s":"CFO210","v":9.92,"y":276},{"s":"CFO210","v":9.97,"y":301},{"s":"CFO210","v":10.02,"y":323.5},{"s":"CFO210","v":10.12,"y":360},{"s":"CFO210","v":10.27,"y":390},{"s":"CFO210","v":10.52,"y":411},{"s":"CFO210","v":10.92,"y":421.8},{"s":"CFO210","v":11.42,"y":426},{"s":"CFO210","v":12,"y":428},
{"s":"CFO230","v":-12,"y":207},{"s":"CFO230","v":-11.07,"y":205},{"s":"CFO230","v":-10.57,"y":202},{"s":"CFO230","v":-10.17,"y":194.3},{"s":"CFO230","v":-9.92,"y":178},{"s":"CFO230","v":-9.77,"y":152},{"s":"CFO230","v":-9.67,"y":117},{"s":"CFO230","v":-9.62,"y":91.5},{"s":"CFO230","v":-9.57,"y":62.4},{"s":"CFO230","v":-9.52,"y":37},{"s":"CFO230","v":-9.47,"y":26},{"s":"CFO230","v":-9.42,"y":37},{"s":"CFO230","v":-9.37,"y":62.4},{"s":"CFO230","v":-9.32,"y":91.5},{"s":"CFO230","v":-9.27,"y":117},{"s":"CFO230","v":-9.17,"y":152},{"s":"CFO230","v":-9.02,"y":178},{"s":"CFO230","v":-8.77,"y":194.3},{"s":"CFO230","v":-8.37,"y":202},{"s":"CFO230","v":-7.87,"y":205},{"s":"CFO230","v":-6.97,"y":207},{"s":"CFO230","v":-6.25,"y":207},{"s":"CFO230","v":-5.95,"y":206.4},{"s":"CFO230","v":-5.75,"y":205},{"s":"CFO230","v":-5.6,"y":202.4},{"s":"CFO230","v":-5.45,"y":201},{"s":"CFO230","v":-5.3,"y":202.4},{"s":"CFO230","v":-5.15,"y":205},{"s":"CFO230","v":-4.95,"y":206.4},{"s":"CFO230","v":-4.65,"y":207},{"s":"CFO230","v":-3.5,"y":207},{"s":"CFO230","v":-2.42,"y":206},{"s":"CFO230","v":-2.02,"y":204.3},{"s":"CFO230","v":-1.77,"y":199.6},{"s":"CFO230","v":-1.62,"y":192},{"s":"CFO230","v":-1.52,"y":181},{"s":"CFO230","v":-1.42,"y":160.6},{"s":"CFO230","v":-1.32,"y":145},{"s":"CFO230","v":-1.22,"y":160.6},{"s":"CFO230","v":-1.12,"y":181},{"s":"CFO230","v":-1.02,"y":192},{"s":"CFO230","v":-0.87,"y":199.6},{"s":"CFO230","v":-0.62,"y":204.3},{"s":"CFO230","v":-0.22,"y":206},{"s":"CFO230","v":0.2,"y":206},{"s":"CFO230","v":0.63,"y":206},{"s":"CFO230","v":1.03,"y":204.3},{"s":"CFO230","v":1.28,"y":199.6},{"s":"CFO230","v":1.43,"y":192},{"s":"CFO230","v":1.53,"y":182},{"s":"CFO230","v":1.63,"y":161.5},{"s":"CFO230","v":1.73,"y":146},{"s":"CFO230","v":1.83,"y":161.5},{"s":"CFO230","v":1.93,"y":182},{"s":"CFO230","v":2.03,"y":192},{"s":"CFO230","v":2.18,"y":199.6},{"s":"CFO230","v":2.43,"y":204.3},{"s":"CFO230","v":2.83,"y":206},{"s":"CFO230","v":4,"y":207},{"s":"CFO230","v":5.08,"y":207},{"s":"CFO230","v":5.38,"y":206.4},{"s":"CFO230","v":5.58,"y":205},{"s":"CFO230","v":5.73,"y":203},{"s":"CFO230","v":5.88,"y":201.6},{"s":"CFO230","v":6.03,"y":203},{"s":"CFO230","v":6.18,"y":205},{"s":"CFO230","v":6.38,"y":206.4},{"s":"CFO230","v":6.68,"y":207},{"s":"CFO230","v":7.32,"y":206.3},{"s":"CFO230","v":8.22,"y":203.7},{"s":"CFO230","v":8.72,"y":199.3},{"s":"CFO230","v":9.12,"y":187.6},{"s":"CFO230","v":9.37,"y":165.3},{"s":"CFO230","v":9.52,"y":133.3},{"s":"CFO230","v":9.62,"y":94.5},{"s":"CFO230","v":9.67,"y":70.3},{"s":"CFO230","v":9.72,"y":44},{"s":"CFO230","v":9.77,"y":24},{"s":"CFO230","v":9.82,"y":16},{"s":"CFO230","v":9.87,"y":24},{"s":"CFO230","v":9.92,"y":44},{"s":"CFO230","v":9.97,"y":70.3},{"s":"CFO230","v":10.02,"y":94.5},{"s":"CFO230","v":10.12,"y":133.3},{"s":"CFO230","v":10.27,"y":165.3},{"s":"CFO230","v":10.52,"y":187.6},{"s":"CFO230","v":10.92,"y":199.3},{"s":"CFO230","v":11.42,"y":203.7},{"s":"CFO230","v":12,"y":205.6}
],
"blue":[
{"s":"CFO","v":-12,"y":663},{"s":"CFO","v":-10.03,"y":661},{"s":"CFO","v":-8.99,"y":656},{"s":"CFO","v":-8.4,"y":650},{"s":"CFO","v":-8.06,"y":643},{"s":"CFO","v":-7.85,"y":611},{"s":"CFO","v":-7.68,"y":573},{"s":"CFO","v":-7.5,"y":530},{"s":"CFO","v":-7.37,"y":501},{"s":"CFO","v":-7.26,"y":487},{"s":"CFO","v":-7.09,"y":501},{"s":"CFO","v":-6.95,"y":515},{"s":"CFO","v":-6.81,"y":538},{"s":"CFO","v":-6.64,"y":571},{"s":"CFO","v":-6.5,"y":590},{"s":"CFO","v":-6.33,"y":593},{"s":"CFO","v":-6.22,"y":605},{"s":"CFO","v":-5.98,"y":628},{"s":"CFO","v":-5.78,"y":643},{"s":"CFO","v":-5.53,"y":646},{"s":"CFO","v":-5.29,"y":641},{"s":"CFO","v":-5.08,"y":631},{"s":"CFO","v":-4.91,"y":640},{"s":"CFO","v":-4.6,"y":649},{"s":"CFO","v":-4.25,"y":643},{"s":"CFO","v":-4.08,"y":638},{"s":"CFO","v":-3.8,"y":643},{"s":"CFO","v":-3.35,"y":650},{"s":"CFO","v":-2.77,"y":655},{"s":"CFO","v":-2.18,"y":657},{"s":"CFO","v":-1.83,"y":656},{"s":"CFO","v":-1.63,"y":648},{"s":"CFO","v":-1.38,"y":628},{"s":"CFO","v":-1.11,"y":598},{"s":"CFO","v":-0.86,"y":586},{"s":"CFO","v":-0.69,"y":595},{"s":"CFO","v":-0.52,"y":615},{"s":"CFO","v":-0.24,"y":635},{"s":"CFO","v":0,"y":640},{"s":"CFO","v":0.35,"y":645},{"s":"CFO","v":0.69,"y":650},{"s":"CFO","v":0.97,"y":641},{"s":"CFO","v":1.28,"y":625},{"s":"CFO","v":1.49,"y":595},{"s":"CFO","v":1.66,"y":571},{"s":"CFO","v":1.8,"y":578},{"s":"CFO","v":1.97,"y":605},{"s":"CFO","v":2.18,"y":635},{"s":"CFO","v":2.52,"y":648},{"s":"CFO","v":3.01,"y":656},{"s":"CFO","v":3.7,"y":658},{"s":"CFO","v":4.15,"y":655},{"s":"CFO","v":4.5,"y":645},{"s":"CFO","v":4.74,"y":630},{"s":"CFO","v":4.91,"y":638},{"s":"CFO","v":5.19,"y":650},{"s":"CFO","v":5.64,"y":653},{"s":"CFO","v":6.12,"y":650},{"s":"CFO","v":6.47,"y":635},{"s":"CFO","v":6.67,"y":618},{"s":"CFO","v":6.92,"y":611},{"s":"CFO","v":7.16,"y":588},{"s":"CFO","v":7.37,"y":558},{"s":"CFO","v":7.61,"y":525},{"s":"CFO","v":7.78,"y":495},{"s":"CFO","v":7.92,"y":478},{"s":"CFO","v":8.06,"y":505},{"s":"CFO","v":8.2,"y":545},{"s":"CFO","v":8.37,"y":585},{"s":"CFO","v":8.54,"y":621},{"s":"CFO","v":8.75,"y":641},{"s":"CFO","v":9.06,"y":651},{"s":"CFO","v":9.68,"y":656},{"s":"CFO","v":10.82,"y":661},{"s":"CFO","v":12,"y":663},
{"s":"CFO210","v":-12,"y":430},{"s":"CFO210","v":-10.03,"y":428.3},{"s":"CFO210","v":-8.99,"y":424.2},{"s":"CFO210","v":-8.4,"y":419.2},{"s":"CFO210","v":-8.06,"y":413.4},{"s":"CFO210","v":-7.85,"y":386.8},{"s":"CFO210","v":-7.68,"y":355.3},{"s":"CFO210","v":-7.5,"y":319.6},{"s":"CFO210","v":-7.37,"y":295.5},{"s":"CFO210","v":-7.26,"y":284},{"s":"CFO210","v":-7.09,"y":295.5},{"s":"CFO210","v":-6.95,"y":307.2},{"s":"CFO210","v":-6.81,"y":326.2},{"s":"CFO210","v":-6.64,"y":353.6},{"s":"CFO210","v":-6.5,"y":369.4},{"s":"CFO210","v":-6.33,"y":371.9},{"s":"CFO210","v":-6.22,"y":381.9},{"s":"CFO210","v":-5.98,"y":401},{"s":"CFO210","v":-5.78,"y":413.4},{"s":"CFO210","v":-5.53,"y":415.9},{"s":"CFO210","v":-5.29,"y":411.7},{"s":"CFO210","v":-5.08,"y":403.4},{"s":"CFO210","v":-4.91,"y":410.9},{"s":"CFO210","v":-4.6,"y":418.4},{"s":"CFO210","v":-4.25,"y":413.4},{"s":"CFO210","v":-4.08,"y":409.2},{"s":"CFO210","v":-3.8,"y":413.4},{"s":"CFO210","v":-3.35,"y":419.2},{"s":"CFO210","v":-2.77,"y":423.4},{"s":"CFO210","v":-2.18,"y":425},{"s":"CFO210","v":-1.83,"y":424.2},{"s":"CFO210","v":-1.63,"y":417.5},{"s":"CFO210","v":-1.38,"y":401},{"s":"CFO210","v":-1.11,"y":376},{"s":"CFO210","v":-0.86,"y":366.1},{"s":"CFO210","v":-0.69,"y":373.6},{"s":"CFO210","v":-0.52,"y":390.2},{"s":"CFO210","v":-0.24,"y":406.8},{"s":"CFO210","v":0,"y":410.9},{"s":"CFO210","v":0.35,"y":415.1},{"s":"CFO210","v":0.69,"y":419.2},{"s":"CFO210","v":0.97,"y":411.7},{"s":"CFO210","v":1.28,"y":398.5},{"s":"CFO210","v":1.49,"y":373.6},{"s":"CFO210","v":1.66,"y":353.6},{"s":"CFO210","v":1.8,"y":359.4},{"s":"CFO210","v":1.97,"y":381.9},{"s":"CFO210","v":2.18,"y":406.8},{"s":"CFO210","v":2.52,"y":417.5},{"s":"CFO210","v":3.01,"y":424.2},{"s":"CFO210","v":3.7,"y":425.8},{"s":"CFO210","v":4.15,"y":423.4},{"s":"CFO210","v":4.5,"y":415.1},{"s":"CFO210","v":4.74,"y":402.6},{"s":"CFO210","v":4.91,"y":409.2},{"s":"CFO210","v":5.19,"y":419.2},{"s":"CFO210","v":5.64,"y":421.7},{"s":"CFO210","v":6.12,"y":419.2},{"s":"CFO210","v":6.47,"y":406.8},{"s":"CFO210","v":6.67,"y":392.6},{"s":"CFO210","v":6.92,"y":386.8},{"s":"CFO210","v":7.16,"y":367.7},{"s":"CFO210","v":7.37,"y":342.8},{"s":"CFO210","v":7.61,"y":315.5},{"s":"CFO210","v":7.78,"y":290.6},{"s":"CFO210","v":7.92,"y":276.4},{"s":"CFO210","v":8.06,"y":298.9},{"s":"CFO210","v":8.2,"y":332.1},{"s":"CFO210","v":8.37,"y":365.3},{"s":"CFO210","v":8.54,"y":395.1},{"s":"CFO210","v":8.75,"y":411.7},{"s":"CFO210","v":9.06,"y":420},{"s":"CFO210","v":9.68,"y":424.2},{"s":"CFO210","v":10.82,"y":428.3},{"s":"CFO210","v":12,"y":430},
{"s":"CFO230","v":-12,"y":208},{"s":"CFO230","v":-10.03,"y":206.3},{"s":"CFO230","v":-8.99,"y":202},{"s":"CFO230","v":-8.4,"y":197},{"s":"CFO230","v":-8.06,"y":191},{"s":"CFO230","v":-7.85,"y":163.8},{"s":"CFO230","v":-7.68,"y":131.5},{"s":"CFO230","v":-7.5,"y":95},{"s":"CFO230","v":-7.37,"y":70.3},{"s":"CFO230","v":-7.26,"y":58.4},{"s":"CFO230","v":-7.09,"y":70.3},{"s":"CFO230","v":-6.95,"y":82.2},{"s":"CFO230","v":-6.81,"y":101.7},{"s":"CFO230","v":-6.64,"y":129.8},{"s":"CFO230","v":-6.5,"y":146},{"s":"CFO230","v":-6.33,"y":148.5},{"s":"CFO230","v":-6.22,"y":158.7},{"s":"CFO230","v":-5.98,"y":178.2},{"s":"CFO230","v":-5.78,"y":191},{"s":"CFO230","v":-5.53,"y":193.5},{"s":"CFO230","v":-5.29,"y":189.3},{"s":"CFO230","v":-5.08,"y":180.8},{"s":"CFO230","v":-4.91,"y":188.4},{"s":"CFO230","v":-4.6,"y":196.1},{"s":"CFO230","v":-4.25,"y":191},{"s":"CFO230","v":-4.08,"y":186.7},{"s":"CFO230","v":-3.8,"y":191},{"s":"CFO230","v":-3.35,"y":197},{"s":"CFO230","v":-2.77,"y":201.2},{"s":"CFO230","v":-2.18,"y":202.9},{"s":"CFO230","v":-1.83,"y":202},{"s":"CFO230","v":-1.63,"y":195.2},{"s":"CFO230","v":-1.38,"y":178.2},{"s":"CFO230","v":-1.11,"y":152.7},{"s":"CFO230","v":-0.86,"y":142.5},{"s":"CFO230","v":-0.69,"y":150.2},{"s":"CFO230","v":-0.52,"y":167.2},{"s":"CFO230","v":-0.24,"y":184.2},{"s":"CFO230","v":0,"y":188.4},{"s":"CFO230","v":0.35,"y":192.7},{"s":"CFO230","v":0.69,"y":197},{"s":"CFO230","v":0.97,"y":189.3},{"s":"CFO230","v":1.28,"y":175.7},{"s":"CFO230","v":1.49,"y":150.2},{"s":"CFO230","v":1.66,"y":129.8},{"s":"CFO230","v":1.8,"y":135.7},{"s":"CFO230","v":1.97,"y":158.7},{"s":"CFO230","v":2.18,"y":184.2},{"s":"CFO230","v":2.52,"y":195.2},{"s":"CFO230","v":3.01,"y":202},{"s":"CFO230","v":3.7,"y":203.7},{"s":"CFO230","v":4.15,"y":201.2},{"s":"CFO230","v":4.5,"y":192.7},{"s":"CFO230","v":4.74,"y":180},{"s":"CFO230","v":4.91,"y":186.7},{"s":"CFO230","v":5.19,"y":197},{"s":"CFO230","v":5.64,"y":199.5},{"s":"CFO230","v":6.12,"y":197},{"s":"CFO230","v":6.47,"y":184.2},{"s":"CFO230","v":6.67,"y":169.7},{"s":"CFO230","v":6.92,"y":163.8},{"s":"CFO230","v":7.16,"y":144.2},{"s":"CFO230","v":7.37,"y":118.7},{"s":"CFO230","v":7.61,"y":90.7},{"s":"CFO230","v":7.78,"y":65.2},{"s":"CFO230","v":7.92,"y":50.7},{"s":"CFO230","v":8.06,"y":73.7},{"s":"CFO230","v":8.2,"y":107.7},{"s":"CFO230","v":8.37,"y":141.7},{"s":"CFO230","v":8.54,"y":172.3},{"s":"CFO230","v":8.75,"y":189.3},{"s":"CFO230","v":9.06,"y":197.8},{"s":"CFO230","v":9.68,"y":202},{"s":"CFO230","v":10.82,"y":206.3},{"s":"CFO230","v":12,"y":208}
],
"lab":[
{"s":"CFO","v":-0.64,"y":465,"t":"CFO"},
{"s":"CFO210","v":-0.98,"y":251,"t":"CFO210"},
{"s":"CFO230","v":-0.92,"y":21,"t":"CFO230"}
]
},
"encoding":{
"x":{"field":"v","type":"quantitative","scale":{"domain":[-12,12],"nice":false,"zero":false},
 "axis":{"title":"v [mm/s]","values":[-12,-10,-8,-6,-4,-2,0,2,4,6,8,10,12],
 "labelExpr":"datum.value % 4 === 0 ? (datum.value < 0 ? '-' + abs(datum.value) : '' + datum.value) : ''",
 "tickSize":{"condition":{"test":"datum.value % 4 === 0","value":13},"value":7},
 "tickWidth":2,"tickColor":"black","domainColor":"black","domainWidth":2,
 "labelFontSize":22,"labelColor":"black","labelPadding":7,"labelFlush":false,"labelOverlap":false,
 "titleFontSize":23,"titleFontWeight":"normal","titleColor":"black","titlePadding":9,"grid":false}},
"y":{"field":"y","type":"quantitative","scale":{"domain":[0,676],"nice":false,"zero":false},
 "axis":{"title":"Relative transmission","ticks":false,"labels":false,"domain":false,"grid":false,
 "titleFontSize":35,"titleFontWeight":"normal","titleColor":"black","titleX":-21,"titleY":368,"titleAngle":270,"titleAlign":"center","titleBaseline":"middle"}}
},
"layer":[
{"data":{"name":"exp"},
 "mark":{"type":"point","filled":true,"fill":"#c8c8c8","stroke":"#2b2b2b","strokeWidth":1,"size":185,"opacity":1,"clip":true},
 "encoding":{"detail":{"field":"s"},
  "shape":{"datum":"exp","scale":{"domain":["exp"],"range":["circle"]},
   "legend":{"orient":"none","legendX":450,"legendY":331,"title":null,"padding":0,"rowPadding":0,"symbolType":"circle","symbolSize":190,"symbolFillColor":"#c8c8c8","symbolStrokeColor":"#2b2b2b","symbolStrokeWidth":1,"labelFontSize":20,"labelFontWeight":"bold","labelColor":"black","labelOffset":16,"clipHeight":30,
    "encode":{"symbols":{"update":{"stroke":{"value":"#2b2b2b"},"strokeWidth":{"value":1},"fill":{"value":"#c8c8c8"},"opacity":{"value":1}}}}}}}},
{"data":{"name":"black"},
 "mark":{"type":"line","strokeWidth":3,"clip":true},
 "encoding":{"detail":{"field":"s"},
  "color":{"datum":"total","type":"nominal","scale":{"domain":["total","Fe³⁺A","Fe³⁺/²⁺B"],"range":["#000000","#ff0000","#0000ff"]},
   "legend":{"orient":"none","legendX":434,"legendY":358,"title":null,"padding":0,"rowPadding":0,"symbolType":"stroke","symbolSize":2304,"symbolStrokeWidth":3,"labelFontSize":20,"labelFontWeight":"bold","labelColor":"black","labelOffset":5,"clipHeight":30}}}},
{"data":{"name":"red"},
 "mark":{"type":"line","strokeWidth":3,"clip":true},
 "encoding":{"detail":{"field":"s"},"color":{"datum":"Fe³⁺A","type":"nominal"}}},
{"data":{"name":"blue"},
 "mark":{"type":"line","strokeWidth":3,"clip":true},
 "encoding":{"detail":{"field":"s"},"color":{"datum":"Fe³⁺/²⁺B","type":"nominal"}}},
{"data":{"name":"lab"},
 "mark":{"type":"text","fontSize":29,"align":"center","baseline":"alphabetic","color":"black"},
 "encoding":{"text":{"field":"t"}}}
]
}
